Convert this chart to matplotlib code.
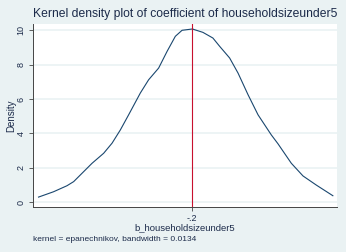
import matplotlib
matplotlib.use("Agg")
import matplotlib.pyplot as plt

# Kernel density estimate (coefficient, density)
coef = [-0.3077, -0.2972, -0.2878, -0.2831, -0.2749, -0.2702, -0.2621, -0.2562,
        -0.2504, -0.2446, -0.2364, -0.2306, -0.2236, -0.2177, -0.2119, -0.2072,
        -0.1994, -0.1996, -0.1926, -0.1856, -0.1809, -0.1739, -0.1680, -0.1610,
        -0.1540, -0.1447, -0.1400, -0.1307, -0.1225, -0.1132, -0.1016]
dens = [0.29, 0.60, 0.95, 1.19, 1.87, 2.26, 2.84, 3.43,
        4.20, 5.08, 6.35, 7.12, 7.80, 8.77, 9.65, 10.00,
        10.06, 10.08, 9.88, 9.55, 9.07, 8.39, 7.51, 6.25,
        5.08, 3.91, 3.39, 2.26, 1.52, 0.99, 0.37]
# sort by coefficient so the line runs left to right
pairs = sorted(zip(coef, dens))
coef = [p[0] for p in pairs]
dens = [p[1] for p in pairs]

ref_value = -0.2
yticks = [0, 2, 4, 6, 8, 10]
bandwidth = 0.0134

bg = '#EAF2F3'
text_col = '#1C2B4A'

plt.rcParams['font.family'] = ['Liberation Sans', 'DejaVu Sans']

fig = plt.figure(figsize=(3.46, 2.52), dpi=100, facecolor=bg)
ax = fig.add_axes([0.094, 0.177, 0.880, 0.728])
ax.set_facecolor('white')

ax.plot(coef, dens, color='#1A476F', linewidth=0.8)
ax.axvline(ref_value, color='#C8102E', linewidth=0.8)

ax.set_xlim(-0.3119, -0.0987)
ax.set_ylim(-0.31, 10.37)
ax.set_xticks([ref_value])
ax.set_xticklabels(['-.2'])
ax.set_yticks(yticks)
ax.set_yticklabels([str(t) for t in yticks], rotation=90, va='center')
ax.grid(axis='y', color=bg, linewidth=1.2)
ax.set_axisbelow(True)

for side in ['top', 'right']:
    ax.spines[side].set_visible(False)
for side in ['left', 'bottom']:
    ax.spines[side].set_color('#444444')
    ax.spines[side].set_linewidth(0.7)
ax.tick_params(direction='out', length=3, width=0.6, colors='#444444',
               labelsize=6.5, labelcolor=text_col, pad=2)

ax.set_ylabel('Density', fontsize=7, color=text_col, labelpad=0)
ax.set_xlabel('b_householdsizeunder5', fontsize=6.8, color=text_col, labelpad=0)
ax.set_title('Kernel density plot of coefficient of householdsizeunder5',
             fontsize=8.7, color=text_col, pad=5)

fig.text(0.094, 0.045, 'kernel = epanechnikov, bandwidth = %.4f' % bandwidth,
         fontsize=6, color=text_col)

fig.savefig('out.png', dpi=100, facecolor=bg)
